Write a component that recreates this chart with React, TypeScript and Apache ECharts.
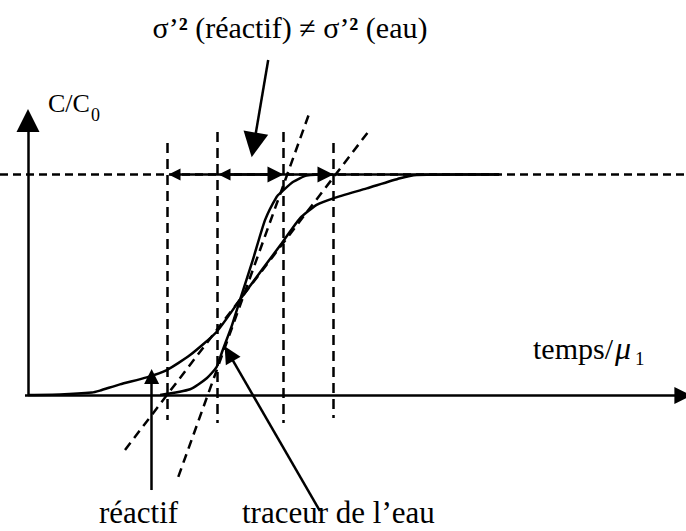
import React, { useEffect, useRef } from "react";
import * as echarts from "echarts";

// ---- data (t = temps/μ1, c = C/C0) ----
const reactifT = [0, 0.144, 0.288, 0.324, 0.414, 0.535, 0.625, 0.73, 0.85, 0.97, 1.143, 1.225, 1.3, 1.375, 1.526, 1.676, 1.751, 1.946, 2.122];
const reactifC = [0, 0.002, 0.011, 0.02, 0.048, 0.08, 0.113, 0.181, 0.287, 0.454, 0.688, 0.801, 0.862, 0.892, 0.937, 0.983, 0.998, 1.0, 1.0];

const eauT = [0.595, 0.73, 0.805, 0.85, 0.874, 0.919, 0.955, 1.015, 1.068, 1.12, 1.143, 1.195, 1.255, 1.36, 2.122];
const eauC = [0, 0.026, 0.076, 0.128, 0.195, 0.317, 0.431, 0.62, 0.794, 0.899, 0.922, 0.967, 0.995, 1.0, 1.0];

// vertical dashed lines at μ ± σ (réactif: outer pair, eau: inner pair)
const boundsT = [0.626, 0.851, 1.149, 1.374];
const boundsTop = [1.143, 1.193, 1.193, 1.143];
const boundsBottom = [-0.113, -0.127, -0.127, -0.104];

// tangents at the inflection point
const tangentReactif = [[0.437, -0.249], [1.533, 1.194]];
const tangentEau = [[0.677, -0.371], [1.27, 1.286]];

// double arrows at C/C0 = 1 (symbol centres)
const sigmaReactif = [[0.66, 1], [1.34, 1]];
const sigmaEau = [[0.885, 1], [1.115, 1]];

// annotation arrows [start, arrow centre]
const arrowTitre = [[1.082, 1.519], [1.017, 1.134]];
const arrowReactif = [[0.557, -0.431], [0.557, 0.084]];
const arrowEau = [[1.315, -0.526], [0.905, 0.188]];

// axes
const axisY = [[0, 0], [0, 1.245]];
const axisX = [[-0.0135, -0.002], [2.95, -0.002]];

// ---- layout ----
const W = 686;
const H = 531;
const X0 = 28;
const XS = 222;
const Y0 = 395;
const YS = 220.5;
const FONT = "Liberation Serif";
const LW = 2.5;

export default function App() {
  const ref = useRef<HTMLDivElement>(null);

  useEffect(() => {
    if (!ref.current) return;
    const chart = echarts.init(ref.current, null, { renderer: "svg" });

    const black = "#000";
    const dash = (d: number[]) => ({ color: black, width: LW, type: d as any, opacity: 1 });

    const arrowSeries = (coords: number[][], size: number[], both = false) => ({
      type: "lines",
      coordinateSystem: "cartesian2d",
      silent: true,
      symbol: both ? ["triangle", "triangle"] : ["none", "triangle"],
      symbolSize: size,
      lineStyle: { color: black, width: LW, opacity: 1, curveness: 0 },
      itemStyle: { color: black },
      data: [{ coords }],
      z: 5,
    });

    const txt = (text: string, x: number, y: number, size: number, extra: any = {}) => ({
      type: "text",
      x,
      y,
      silent: true,
      style: {
        text,
        fill: black,
        fontSize: size,
        fontFamily: FONT,
        fontStyle: extra.italic ? "italic" : "normal",
        textAlign: extra.align || "left",
        align: extra.align || "left",
        textVerticalAlign: "middle",
        verticalAlign: "middle",
        rich: extra.rich,
      },
      z: 10,
    });

    chart.setOption({
      animation: false,
      backgroundColor: "#fff",
      grid: { left: 0, right: 0, top: 0, bottom: 0 },
      xAxis: { type: "value", min: -X0 / XS, max: (W - X0) / XS, show: false },
      yAxis: { type: "value", min: -(H - Y0) / YS, max: Y0 / YS, show: false },
      series: [
        {
          type: "lines",
          coordinateSystem: "cartesian2d",
          silent: true,
          symbol: ["none", "none"],
          data: [
            { coords: [[-X0 / XS, 1], [(W - X0) / XS, 1]], lineStyle: dash([8, 5]) },
            ...boundsT.map((t, i) => ({
              coords: [[t, boundsTop[i]], [t, boundsBottom[i]]],
              lineStyle: dash([10, 6]),
            })),
            { coords: tangentReactif, lineStyle: dash([9, 6]) },
            { coords: tangentEau, lineStyle: dash([9, 6]) },
          ],
          z: 2,
        },
        {
          type: "line",
          name: "réactif",
          data: reactifT.map((t, i) => [t, reactifC[i]]),
          showSymbol: false,
          smooth: 0.2,
          lineStyle: { color: black, width: LW },
          z: 4,
        },
        {
          type: "line",
          name: "traceur de l’eau",
          data: eauT.map((t, i) => [t, eauC[i]]),
          showSymbol: false,
          smooth: 0.2,
          lineStyle: { color: black, width: LW },
          z: 4,
        },
        arrowSeries(axisY, [22, 23]),
        arrowSeries(axisX, [22, 17]),
        arrowSeries(arrowTitre, [21, 25]),
        arrowSeries(arrowReactif, [14, 15]),
        arrowSeries(arrowEau, [16, 17]),
        arrowSeries(sigmaReactif, [12, 16], true),
        arrowSeries(sigmaEau, [12, 16], true),
      ],
      graphic: [
        txt("{n|σ’}{b|²}{n| (réactif) ≠ σ’}{b|²}{n| (eau)}", 290, 27, 30, {
          align: "center",
          rich: {
            n: { fontSize: 30, fontFamily: FONT, fill: black, color: black },
            b: { fontSize: 30, fontFamily: FONT, fontWeight: "bold", fill: black, color: black },
          },
        }),
        txt("C/C", 48, 103, 26),
        txt("0", 91, 115, 18),
        txt("temps/", 533, 348, 30),
        txt("μ", 615, 348, 32, { italic: true }),
        txt("1", 635, 358, 19),
        txt("réactif", 99, 512, 31),
        txt("traceur de l’eau", 242, 512, 31),
      ],
    });

    return () => chart.dispose();
  }, []);

  return (
    <div
      ref={ref}
      style={{ position: "fixed", left: 0, top: 0, width: W, height: H, background: "#fff" }}
    />
  );
}
